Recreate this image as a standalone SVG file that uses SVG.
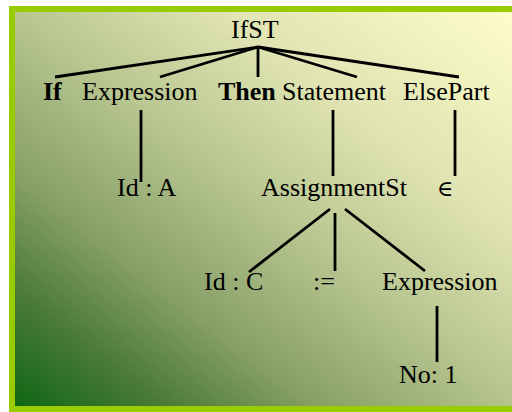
<svg xmlns="http://www.w3.org/2000/svg" width="512" height="412" viewBox="0 0 512 412">
<defs>
<linearGradient id="bg" x1="0" y1="1" x2="1" y2="0">
<stop offset="0" stop-color="#0c6612"/>
<stop offset="0.15" stop-color="#4a7a38"/>
<stop offset="0.3" stop-color="#88a068"/>
<stop offset="0.5" stop-color="#b8c690"/>
<stop offset="0.7" stop-color="#e0e4b2"/>
<stop offset="1" stop-color="#ffffcc"/>
</linearGradient>
<style>
text{font-family:"Liberation Serif","Times New Roman","DejaVu Serif",serif;font-size:26px;fill:#000}
.b{font-weight:bold}
#edges line{stroke:#000;stroke-width:2.8;stroke-linecap:butt}
</style>
</defs>
<rect x="12" y="9" width="520" height="400" fill="url(#bg)" stroke="#99cc00" stroke-width="6"/>
<g id="edges">
<line x1="258" y1="47" x2="55" y2="77"/>
<line x1="258" y1="47" x2="160" y2="77"/>
<line x1="258" y1="47" x2="258" y2="77"/>
<line x1="258" y1="47" x2="357" y2="77"/>
<line x1="258" y1="47" x2="459" y2="77"/>
<line x1="141" y1="110" x2="141" y2="182"/>
<line x1="333" y1="110" x2="333" y2="176"/>
<line x1="455" y1="110" x2="455" y2="176"/>
<line x1="330" y1="209" x2="249" y2="272"/>
<line x1="335" y1="213" x2="335" y2="271"/>
<line x1="345" y1="209" x2="425" y2="271"/>
<line x1="437" y1="306" x2="437" y2="362"/>
</g>
<g id="ifst"><text x="231" y="38">IfST</text></g>
<g id="if"><text class="b" x="43" y="100">If</text></g>
<g id="expression1"><text x="82" y="100">Expression</text></g>
<g id="then"><text class="b" x="218" y="100">Then</text></g>
<g id="statement"><text x="282" y="100">Statement</text></g>
<g id="elsepart"><text x="403" y="100">ElsePart</text></g>
<g id="idA"><text x="117" y="196">Id : A</text></g>
<g id="assignmentst"><text x="261" y="196">AssignmentSt</text></g>
<g id="epsilon"><text x="437" y="196" style="font-size:22px">∈</text></g>
<g id="idC"><text x="204" y="290">Id : C</text></g>
<g id="assign"><text x="313" y="290">:=</text></g>
<g id="expression2"><text x="382" y="290">Expression</text></g>
<g id="no1"><text x="399" y="383">No: 1</text></g>
</svg>
